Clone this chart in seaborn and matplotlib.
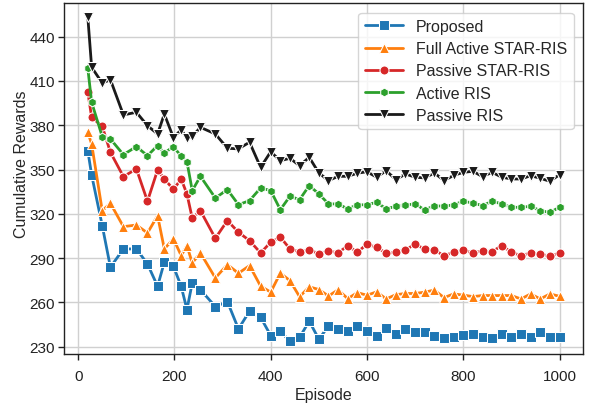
import matplotlib
matplotlib.use("Agg")
import matplotlib.pyplot as plt
import seaborn as sns
import pandas as pd

episodes = [20, 28, 50, 67, 94, 121, 144, 165, 179, 198, 214, 226, 237, 254, 285, 310, 333, 356, 379,
            400, 420, 440, 460, 480, 500, 520, 540, 560, 580, 600, 620, 640, 660, 680, 700, 720, 740,
            760, 780, 800, 820, 840, 860, 880, 900, 920, 940, 960, 980, 1000]

proposed = [362.8, 346.3, 312.0, 283.8, 296.2, 296.2, 286.0, 270.9, 287.2, 284.3, 270.9, 255.1, 273.2,
            268.6, 257.1, 260.5, 242.0, 254.0, 249.9, 237.5, 240.5, 233.5, 236.2, 247.3, 235.0, 243.9,
            242.0, 240.4, 244.2, 240.3, 237.2, 242.5, 238.6, 242.0, 240.0, 240.0, 237.2, 235.7, 236.7,
            238.0, 238.6, 236.4, 235.7, 238.6, 236.4, 238.6, 236.4, 240.2, 236.4, 236.4]

full_active = [375.2, 367.3, 322.1, 327.1, 311.3, 312.4, 307.0, 318.7, 296.2, 303.0, 291.7, 298.4, 286.7,
               293.5, 276.5, 285.6, 279.7, 284.9, 271.0, 266.9, 279.8, 274.7, 263.8, 270.5, 268.7, 264.3,
               268.5, 262.5, 266.6, 264.8, 267.1, 262.3, 265.2, 266.0, 266.0, 266.9, 268.3, 263.2, 265.7,
               264.9, 263.9, 264.6, 264.6, 264.6, 264.6, 262.3, 265.7, 262.3, 265.7, 264.1]

passive_star = [402.7, 385.4, 379.3, 361.7, 345.2, 350.4, 328.5, 349.7, 343.6, 336.5, 343.6, 333.4, 317.0,
                322.1, 303.4, 315.4, 307.5, 301.8, 293.5, 300.7, 304.2, 296.2, 294.2, 295.8, 292.7, 295.0,
                293.5, 298.4, 294.0, 299.4, 297.3, 293.3, 293.9, 295.6, 299.4, 296.1, 295.6, 291.5, 294.0,
                295.3, 293.5, 295.0, 294.4, 298.4, 294.0, 291.6, 293.5, 292.8, 291.2, 293.5]

active_ris = [418.8, 395.6, 372.3, 370.7, 360.1, 365.5, 359.4, 366.2, 361.2, 365.5, 359.0, 355.3, 335.7,
              345.4, 330.7, 336.4, 326.2, 328.9, 337.5, 335.7, 322.8, 331.9, 329.6, 339.1, 333.5, 326.7,
              326.7, 323.3, 326.1, 326.1, 327.8, 323.3, 325.1, 326.0, 326.7, 322.6, 325.5, 325.1, 326.1,
              328.5, 327.3, 325.5, 328.5, 326.7, 324.4, 324.4, 325.1, 322.1, 321.0, 324.4]

passive_ris = [453.5, 419.3, 408.6, 410.9, 387.0, 388.8, 379.7, 374.1, 387.6, 371.5, 377.0, 371.2, 372.4,
               378.6, 374.1, 364.4, 364.0, 368.5, 351.5, 362.0, 356.0, 357.6, 352.6, 358.3, 347.7, 342.5,
               345.4, 345.4, 347.5, 348.5, 344.8, 349.2, 343.1, 347.0, 344.8, 344.3, 347.7, 342.5, 346.0,
               348.1, 348.8, 345.2, 348.1, 344.8, 343.6, 343.6, 345.8, 344.1, 342.0, 346.5]

labels = ["Proposed", "Full Active STAR-RIS", "Passive STAR-RIS", "Active RIS", "Passive RIS"]
series = [proposed, full_active, passive_star, active_ris, passive_ris]
colors = ["#1f77b4", "#ff7f0e", "#d62728", "#2ca02c", "#1a1a1a"]
markers = ["s", "^", "o", "h", "v"]
msizes = [6.5, 7, 6.5, 6.3, 7]

sns.set_style("ticks")
plt.rcParams["font.family"] = ["Liberation Sans", "DejaVu Sans"]

fig, ax = plt.subplots(figsize=(5.89, 4.06), dpi=100)
fig.subplots_adjust(left=0.109, right=0.990, top=0.990, bottom=0.126)

for lab, vals, c, m, ms in zip(labels, series, colors, markers, msizes):
    df = pd.DataFrame({"Episode": episodes, "Reward": vals})
    sns.lineplot(data=df, x="Episode", y="Reward", ax=ax, color=c, marker=m,
                 markersize=ms, linewidth=2, label=lab)

ax.set_xlim(-29, 1049)
ax.set_ylim(225.1, 462.8)
ax.set_xticks([0, 200, 400, 600, 800, 1000])
ax.set_yticks([230, 260, 290, 320, 350, 380, 410, 440])
ax.grid(True, color="#d0d0d0", linewidth=1)
ax.set_axisbelow(True)
ax.tick_params(labelsize=11, length=4, width=1, colors="#222222")
ax.tick_params(axis="x", pad=7)
ax.tick_params(axis="y", pad=2.5)
ax.set_xlabel("Episode", fontsize=11.5, labelpad=3)
ax.set_ylabel("Cumulative Rewards", fontsize=11.5)
ax.yaxis.set_label_coords(-0.068, 0.544)
for s in ax.spines.values():
    s.set_color("#222222")
    s.set_linewidth(1)

leg = ax.legend(loc="upper right", fontsize=11.5, frameon=True, borderaxespad=0.6,
                handlelength=2.4, labelspacing=0.45)
leg.get_frame().set_edgecolor("#cccccc")

fig.savefig("out.png", dpi=100)
